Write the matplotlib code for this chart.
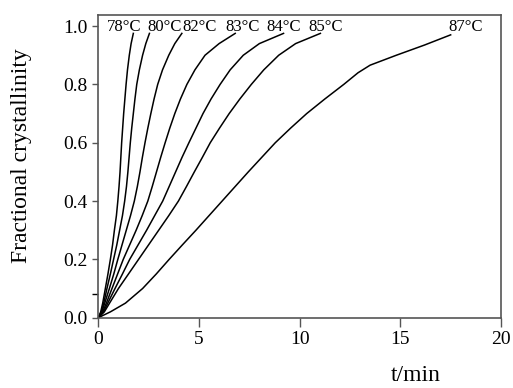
import matplotlib
matplotlib.use("Agg")
import matplotlib.pyplot as plt

plt.rcParams['font.family'] = ['Liberation Serif', 'DejaVu Serif']

# fraction levels shared by the first six isotherms
levels = [0, 0.02, 0.05, 0.1, 0.15, 0.2, 0.25, 0.3, 0.35, 0.4, 0.45,
          0.5, 0.55, 0.6, 0.65, 0.7, 0.75, 0.8, 0.85, 0.9, 0.94, 0.975]

t_78 = [0, 0.12, 0.22, 0.35, 0.48, 0.60, 0.71, 0.80, 0.90, 0.97, 1.03,
        1.08, 1.12, 1.16, 1.21, 1.26, 1.32, 1.38, 1.45, 1.54, 1.63, 1.74]
t_80 = [0, 0.15, 0.27, 0.43, 0.60, 0.76, 0.92, 1.06, 1.20, 1.31, 1.40,
        1.47, 1.53, 1.59, 1.66, 1.74, 1.82, 1.91, 2.04, 2.20, 2.36, 2.54]
t_82 = [0, 0.18, 0.32, 0.55, 0.77, 0.97, 1.18, 1.39, 1.60, 1.79, 1.94,
        2.07, 2.19, 2.32, 2.46, 2.61, 2.77, 2.95, 3.19, 3.50, 3.80, 4.15]
t_83 = [0, 0.22, 0.40, 0.68, 0.96, 1.24, 1.56, 1.88, 2.18, 2.46, 2.68,
        2.89, 3.10, 3.32, 3.55, 3.80, 4.08, 4.40, 4.80, 5.30, 6.00, 6.80]
t_84 = [0, 0.26, 0.47, 0.83, 1.20, 1.56, 1.98, 2.40, 2.80, 3.20, 3.52,
        3.84, 4.16, 4.50, 4.85, 5.20, 5.60, 6.05, 6.55, 7.20, 8.00, 9.20]
t_85 = [0, 0.30, 0.56, 1.00, 1.50, 2.00, 2.50, 3.00, 3.50, 3.98, 4.38,
        4.77, 5.17, 5.56, 6.02, 6.50, 7.03, 7.60, 8.22, 8.96, 9.80, 11.03]

# 87 C has its own levels (bend near 13.5 min)
x_87 = [0, 0.02, 0.05, 0.1, 0.15, 0.2, 0.25, 0.3, 0.35, 0.4, 0.45, 0.5,
        0.55, 0.6, 0.65, 0.7, 0.75, 0.8, 0.84, 0.866, 0.9, 0.935, 0.97]
t_87 = [0, 0.60, 1.35, 2.20, 2.88, 3.52, 4.18, 4.85, 5.50, 6.15, 6.80, 7.45,
        8.12, 8.79, 9.55, 10.35, 11.25, 12.19, 12.90, 13.50, 14.80, 16.20, 17.50]

labels = ['78°C', '80°C', '82°C', '83°C', '84°C', '85°C', '87°C']
label_t = [1.30, 3.27, 5.03, 7.17, 9.19, 11.30, 18.22]

fig = plt.figure(figsize=(5.13, 3.88), dpi=100)
ax = fig.add_axes([0.1916, 0.1812, 0.7850, 0.7801])

for t in [t_78, t_80, t_82, t_83, t_84, t_85]:
    ax.plot(t, levels, color='black', lw=1.1)
ax.plot(t_87, x_87, color='black', lw=1.1)

for lab, xt in zip(labels, label_t):
    ax.text(xt, 0.998, lab, ha='center', va='center', fontsize=12)

ax.set_xlim(0, 20)
ax.set_ylim(0, 1.038)
ax.set_xticks([0, 5, 10, 15, 20])
ax.set_yticks([0, 0.2, 0.4, 0.6, 0.8, 1.0])
ax.set_yticklabels(['0.0', '0.2', '0.4', '0.6', '0.8', '1.0'])
ax.set_yticks([0.08], minor=True)
ax.tick_params(axis='both', labelsize=14, direction='out', color='#555555')
ax.tick_params(axis='y', length=4.5, width=1, pad=3)
ax.tick_params(axis='y', which='minor', length=4.5, width=1)
ax.tick_params(axis='x', length=6.5, width=1, pad=3)
for s in ax.spines.values():
    s.set_color('#555555')
    s.set_linewidth(1.2)

ax.set_xlabel('t/min', fontsize=17)
ax.xaxis.set_label_coords(0.789, -0.155)
ax.set_ylabel('Fractional crystallinity', fontsize=17)
ax.yaxis.set_label_coords(-0.165, 0.537)

fig.savefig('out.png', dpi=100)
